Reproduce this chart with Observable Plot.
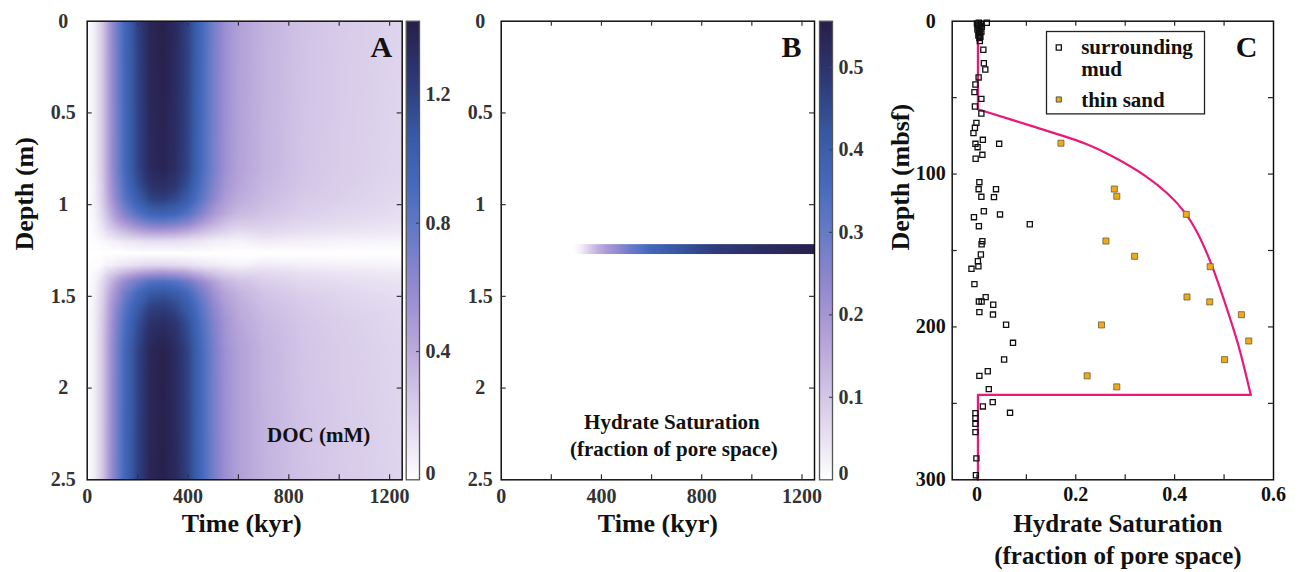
<!DOCTYPE html>
<html>
<head>
<meta charset="utf-8">
<script src="https://cdn.jsdelivr.net/npm/d3@7"></script>
<script src="https://cdn.jsdelivr.net/npm/@observablehq/plot@0.6"></script>
<style>
  body { margin: 0; background: #fff; }
  #wrap { position: relative; width: 1299px; height: 572px; overflow: hidden; background: #fff; }
  #wrap svg { position: absolute; left: 0; top: 0; }
  #wrap svg text { font-family: 'Liberation Serif', 'Times New Roman', serif; font-weight: bold; }
</style>
</head>
<body>
<div id="wrap"></div>
<script>
// ---------------- DATA ----------------
// Panel A: DOC (mM), rows = depth (m), columns = time (kyr)
const docTimes  = [0, 30, 60, 100, 150, 200, 250, 300, 350, 400, 450, 500, 550, 600, 700, 850, 1000, 1250];
const docDepths = [0, 0.8, 0.9, 0.97, 1.05, 1.1, 1.15, 1.2, 1.265, 1.33, 1.37, 1.42, 1.48, 1.55, 1.65, 1.8, 2.5];
const docValues = [
  [0, 0.08, 0.25, 0.60, 0.95, 1.20, 1.38, 1.42, 1.35, 1.20, 0.95, 0.72, 0.55, 0.45, 0.36, 0.28, 0.24, 0.19],
  [0, 0.08, 0.25, 0.59, 0.93, 1.18, 1.35, 1.39, 1.32, 1.18, 0.93, 0.71, 0.54, 0.44, 0.35, 0.27, 0.23, 0.18],
  [0, 0.07, 0.23, 0.56, 0.88, 1.12, 1.28, 1.32, 1.26, 1.12, 0.88, 0.67, 0.51, 0.42, 0.33, 0.26, 0.22, 0.17],
  [0, 0.07, 0.22, 0.52, 0.82, 1.03, 1.19, 1.22, 1.16, 1.03, 0.82, 0.62, 0.47, 0.39, 0.31, 0.24, 0.21, 0.16],
  [0, 0.06, 0.18, 0.42, 0.67, 0.84, 0.97, 0.99, 0.95, 0.84, 0.67, 0.50, 0.39, 0.32, 0.27, 0.21, 0.18, 0.14],
  [0, 0.04, 0.13, 0.32, 0.50, 0.64, 0.73, 0.75, 0.72, 0.64, 0.50, 0.38, 0.29, 0.24, 0.22, 0.17, 0.15, 0.12],
  [0, 0.03, 0.08, 0.19, 0.30, 0.38, 0.44, 0.45, 0.43, 0.38, 0.30, 0.23, 0.18, 0.14, 0.16, 0.13, 0.11, 0.09],
  [0, 0.01, 0.03, 0.06, 0.10, 0.12, 0.14, 0.14, 0.14, 0.12, 0.10, 0.07, 0.06, 0.05, 0.08, 0.06, 0.05, 0.04],
  [0, 0, 0, 0, 0, 0, 0, 0, 0, 0, 0, 0, 0, 0, 0, 0, 0, 0],
  [0, 0.01, 0.03, 0.07, 0.11, 0.14, 0.17, 0.17, 0.16, 0.14, 0.11, 0.09, 0.07, 0.05, 0.09, 0.07, 0.06, 0.05],
  [0, 0.03, 0.09, 0.21, 0.33, 0.42, 0.48, 0.50, 0.47, 0.42, 0.33, 0.25, 0.19, 0.16, 0.16, 0.13, 0.11, 0.09],
  [0, 0.05, 0.16, 0.37, 0.59, 0.74, 0.86, 0.88, 0.84, 0.74, 0.59, 0.45, 0.34, 0.28, 0.22, 0.17, 0.15, 0.12],
  [0, 0.06, 0.19, 0.46, 0.73, 0.92, 1.06, 1.09, 1.04, 0.92, 0.73, 0.55, 0.42, 0.35, 0.27, 0.21, 0.18, 0.14],
  [0, 0.07, 0.22, 0.52, 0.82, 1.03, 1.19, 1.22, 1.16, 1.03, 0.82, 0.62, 0.47, 0.39, 0.30, 0.24, 0.20, 0.16],
  [0, 0.08, 0.24, 0.56, 0.89, 1.13, 1.30, 1.33, 1.27, 1.13, 0.89, 0.68, 0.52, 0.42, 0.33, 0.26, 0.22, 0.17],
  [0, 0.08, 0.25, 0.59, 0.94, 1.19, 1.37, 1.41, 1.34, 1.19, 0.94, 0.71, 0.54, 0.45, 0.35, 0.27, 0.23, 0.18],
  [0, 0.08, 0.25, 0.60, 0.95, 1.20, 1.38, 1.42, 1.35, 1.20, 0.95, 0.72, 0.55, 0.45, 0.36, 0.28, 0.24, 0.19]
];
const docMax = 1.43;

// Panel B: hydrate saturation in the sand layer vs time
const satTimes  = [290, 320, 350, 390, 420, 456, 490, 523, 560, 590, 656, 750, 850, 950, 1050, 1150, 1250];
const satValues = [0, 0.03, 0.08, 0.15, 0.19, 0.22, 0.26, 0.30, 0.33, 0.36, 0.40, 0.44, 0.48, 0.50, 0.52, 0.535, 0.55];
const sandLayerDepth = [1.218, 1.272];
const satMax = 0.556;

// Panel C: measured saturations
const mudSat = [0.004, 0.0, 0.008, 0.002, 0.006, 0.01, 0.003, 0.007, 0.001, 0.005, 0.009, 0.004, 0.006, 0.003, 0.007, 0.005, 0.02,
  0.006, 0.013, 0.014, 0.017, 0.0035, -0.003, -0.005, 0.009, -0.004, 0.009, -0.001, -0.004, -0.007, 0.012, 0.045, -0.003, 0.0014, 0.011, -0.0026,
  0.005, 0.0035, 0.0386, 0.009, 0.0345, 0.014, 0.0467, -0.006, 0.107, 0.004, 0.011, 0.0095, 0.008, 0.002, 0.003, -0.011, -0.005,
  0.0177, 0.004, 0.0095, 0.033, 0.005, 0.0325, 0.059, 0.073, 0.055, 0.022, 0.005, 0.024, 0.032, 0.012, 0.067, -0.003, -0.003, -0.003, -0.003, -0.001, -0.002];
const mudDepth = [1, 1.5, 1.8, 2.5, 3, 3.5, 4.2, 5, 5.5, 6.3, 7, 7.8, 8.6, 9.4, 10.2, 11, 1.0,
  13, 18.7, 27.5, 31.6, 36.8, 41.4, 46.4, 50.8, 55.8, 60.4, 66.5, 69.7, 73.2, 77.6, 80.2, 80.2, 82.4, 87.4, 90,
  105.3, 109.9, 109.9, 114.9, 115.1, 124.3, 126.4, 128.2, 132.8, 134.1, 143.9, 145.9, 152.6, 157, 160.3, 162, 172,
  180.5, 183.4, 183.4, 185.5, 190.3, 191.9, 198.6, 210.4, 221.3, 229, 232, 240.7, 249.2, 252, 256.2, 256.4, 259.7, 263.4, 268.8, 286, 297];
const sandSat   = [0.17, 0.278, 0.283, 0.4235, 0.261, 0.319, 0.472, 0.425, 0.471, 0.535, 0.252, 0.55, 0.501, 0.223, 0.283];
const sandDepth = [79.8, 109.8, 114.5, 126.3, 143.8, 153.8, 160.6, 180.4, 183.6, 192, 198.7, 209.2, 221.4, 232, 239.2];

// Model profile (line) in panel C
const profileTopSat = [0.002, 0.002];
const profileTopDepth = [0, 57.6];
const profileCurveSat = [0.002, 0.11, 0.22, 0.271, 0.339, 0.386, 0.42, 0.447, 0.474, 0.5, 0.528, 0.554];
const profileCurveDepth = [57.6, 68.5, 80.2, 87.9, 100.9, 112.9, 124.9, 139, 158.7, 182.5, 210.9, 244.4];
const profileBottomSat = [0.554, 0.002, 0.002];
const profileBottomDepth = [244.4, 244.4, 300];

// Tick values / labels
const timeTicks = [200, 400, 600, 800, 1000, 1200];
const timeLabels = [0, 400, 800, 1200];
const depthTicksM = [0.5, 1, 1.5, 2];
const depthLabelsM = [0, 0.5, 1, 1.5, 2, 2.5];
const docTicks = [0, 0.4, 0.8, 1.2];
const satTicks = [0, 0.1, 0.2, 0.3, 0.4, 0.5];
const cSatTicks = [0, 0.1, 0.2, 0.3, 0.4, 0.5];
const cSatLabels = [0, 0.2, 0.4, 0.6];
const cDepthTicks = [50, 100, 150, 200, 250];
const cDepthLabels = [0, 100, 200, 300];

// Colour map (shared by A and B)
const cmapStops  = [0, 0.1, 0.2, 0.3, 0.42, 0.55, 0.65, 0.75, 0.87, 1];
const cmapColors = ["#ffffff", "#e6def1", "#cfc1e5", "#b6a4d9", "#9389d0", "#6279c6", "#4468bd", "#385aa5", "#2d3a78", "#281f4a"];

// ---------------- LAYOUT ----------------
const W = 1299, H = 572;
const TOP = 20.7, BOTTOM = 479.3, FH = BOTTOM - TOP;
const FONT = "'Liberation Serif', 'Times New Roman', serif";
const wrap = document.getElementById("wrap");

function base(left, right, extra) {
  return Object.assign({
    width: W, height: H,
    marginLeft: left, marginRight: W - right, marginTop: TOP, marginBottom: H - BOTTOM,
    style: {background: "transparent", fontFamily: FONT, fontWeight: "bold", fontSize: "20px", color: "#333", overflow: "visible"}
  }, extra);
}
function inTicksY(values, fw, len = 5, stroke = "#333") {
  return [
    Plot.tickY(values, {y: d => d, insetRight: fw - len, stroke, strokeWidth: 1.2}),
    Plot.tickY(values, {y: d => d, insetLeft: fw - len, stroke, strokeWidth: 1.2})
  ];
}
function inTicksX(values, len = 5, stroke = "#333") {
  return [
    Plot.tickX(values, {x: d => d, insetBottom: FH - len, stroke, strokeWidth: 1.2}),
    Plot.tickX(values, {x: d => d, insetTop: FH - len, stroke, strokeWidth: 1.2})
  ];
}
function xLabels(values, dy, fill = "#333") {
  return Plot.text(values, {x: d => d, text: d => String(d), frameAnchor: "bottom", dy, lineAnchor: "middle", fontSize: 20, fontWeight: "bold", fontFamily: FONT, fill});
}
function yLabels(values, dx, fill = "#333") {
  return Plot.text(values, {y: d => d, text: d => String(d), frameAnchor: "left", dx, textAnchor: "middle", lineAnchor: "middle", fontSize: 20, fontWeight: "bold", fontFamily: FONT, fill});
}
function title(str, opts) {
  return Plot.text([str], Object.assign({text: d => d, fontWeight: "bold", fontFamily: FONT, fill: "#111", lineAnchor: "middle"}, opts));
}
function cbLabels(values, dy) {
  return Plot.text(values, {y: d => d, text: d => String(d), frameAnchor: "right", dx: 6, dy, textAnchor: "start", lineAnchor: "middle", fontSize: 20, fontWeight: "bold", fontFamily: FONT, fill: "#333"});
}

// ---------- Panel A ----------
const AL = 86.7, AR = 401.7;
const docTable = docDepths.flatMap((z, i) => docTimes.map((t, j) => ({t, z, v: docValues[i][j]})));
const colorA = {type: "linear", domain: cmapStops.map(s => s * docMax), range: cmapColors, clamp: true};

const plotA = Plot.plot(base(AL, AR, {
  x: {domain: [0, 1250], axis: null},
  y: {domain: [0, 2.5], reverse: true, axis: null},
  color: colorA,
  marks: [
    Plot.raster(docTable, {x: "t", y: "z", fill: "v", interpolate: "barycentric", x1: 0, x2: 1250, y1: 0, y2: 2.5}),
    Plot.frame({stroke: "#111", strokeWidth: 1.5}),
    ...inTicksX(timeTicks),
    ...inTicksY(depthTicksM, AR - AL),
    xLabels(timeLabels, 16.7),
    yLabels(depthLabelsM, -24),
    title("Time (kyr)", {frameAnchor: "bottom", dy: 44, dx: -3, fontSize: 26}),
    title("Depth (m)", {frameAnchor: "left", dx: -63, rotate: -90, fontSize: 26}),
    title("A", {frameAnchor: "top-right", dx: -10, dy: 26, fontSize: 30, textAnchor: "end"}),
    title("DOC (mM)", {frameAnchor: "bottom-right", dx: -32, dy: -45, fontSize: 21, textAnchor: "end"})
  ]
}));
wrap.appendChild(plotA);

// ---------- Colorbar A ----------
const CAL = 405.7, CAR = 419;
const cbA = Plot.plot(base(CAL, CAR, {
  x: {domain: [0, 1], axis: null},
  y: {domain: [0, docMax], axis: null},
  color: colorA,
  marks: [
    Plot.raster({fill: (x, y) => y, x1: 0, x2: 1, y1: 0, y2: docMax}),
    Plot.frame({stroke: "#555", strokeWidth: 1.3}),
    Plot.tickY(docTicks.slice(1), {y: d => d, insetLeft: (CAR - CAL) - 3, stroke: "#444", strokeWidth: 1.2}),
    cbLabels(docTicks.slice(1), 0),
    cbLabels([0], -6)
  ]
}));
wrap.appendChild(cbA);

// ---------- Panel B ----------
const BL = 500.7, BR = 814;
const plotB = Plot.plot(base(BL, BR, {
  x: {domain: [0, 1250], axis: null},
  y: {domain: [0, 2.5], reverse: true, axis: null},
  marks: [
    Plot.rect([0], {x1: satTimes[0], x2: satTimes[satTimes.length - 1], y1: sandLayerDepth[0], y2: sandLayerDepth[1], fill: "url(#hydGrad)"}),
    Plot.frame({stroke: "#111", strokeWidth: 1.5}),
    ...inTicksX(timeTicks),
    ...inTicksY(depthTicksM, BR - BL),
    xLabels(timeLabels, 16.7),
    yLabels(depthLabelsM, -21),
    title("Time (kyr)", {frameAnchor: "bottom", dy: 44, fontSize: 26}),
    title("B", {frameAnchor: "top-right", dx: -13, dy: 26, fontSize: 30, textAnchor: "end"}),
    title("Hydrate Saturation", {frameAnchor: "bottom", dx: 14, dy: -58, fontSize: 21}),
    title("(fraction of pore space)", {frameAnchor: "bottom", dx: 16, dy: -31, fontSize: 21})
  ]
}));
wrap.appendChild(plotB);

// ---------- Colorbar B ----------
const CBL = 819, CBR = 832;
const colorB = {type: "linear", domain: cmapStops.map(s => s * satMax), range: cmapColors, clamp: true};
const cbB = Plot.plot(base(CBL, CBR, {
  x: {domain: [0, 1], axis: null},
  y: {domain: [0, satMax], axis: null},
  color: colorB,
  marks: [
    Plot.raster({fill: (x, y) => y, x1: 0, x2: 1, y1: 0, y2: satMax}),
    Plot.frame({stroke: "#555", strokeWidth: 1.3}),
    Plot.tickY(satTicks.slice(1), {y: d => d, insetLeft: (CBR - CBL) - 3, stroke: "#444", strokeWidth: 1.2}),
    cbLabels(satTicks.slice(1), 0),
    cbLabels([0], -6)
  ]
}));
wrap.appendChild(cbB);

// gradient for the hydrate band, coloured through the colour scale
(function () {
  const sc = cbB.scale && cbB.scale("color");
  const colorFn = (sc && sc.apply) ? (v => sc.apply(v)) : d3.scaleLinear().domain(colorB.domain).range(cmapColors).clamp(true);
  const t0 = satTimes[0], tN = satTimes[satTimes.length - 1];
  const defs = d3.select(plotB).insert("defs", ":first-child");
  const lg = defs.append("linearGradient").attr("id", "hydGrad").attr("x1", 0).attr("x2", 1).attr("y1", 0).attr("y2", 0);
  satTimes.forEach((t, i) => lg.append("stop").attr("offset", (t - t0) / (tN - t0)).attr("stop-color", colorFn(satValues[i])));
})();

// ---------- Panel C ----------
const CL = 951.7, CR = 1273;
const mud = mudSat.map((s, i) => ({s, d: mudDepth[i]}));
const sand = sandSat.map((s, i) => ({s, d: sandDepth[i]}));
const pTop = profileTopSat.map((s, i) => ({s, d: profileTopDepth[i]}));
const pCurve = profileCurveSat.map((s, i) => ({s, d: profileCurveDepth[i]}));
const pBottom = profileBottomSat.map((s, i) => ({s, d: profileBottomDepth[i]}));
const LINE = "#e8197b";

const plotC = Plot.plot(base(CL, CR, {
  x: {domain: [-0.05, 0.6], axis: null},
  y: {domain: [0, 300], reverse: true, axis: null},
  marks: [
    Plot.frame({insetLeft: 1046 - CL, insetRight: CR - 1204, insetTop: 31 - TOP, insetBottom: BOTTOM - 113.4, stroke: "#222", strokeWidth: 1.3, fill: "white"}),
    Plot.line(pTop, {x: "s", y: "d", stroke: LINE, strokeWidth: 2.2}),
    Plot.line(pCurve, {x: "s", y: "d", stroke: LINE, strokeWidth: 2.2, curve: "catmull-rom"}),
    Plot.line(pBottom, {x: "s", y: "d", stroke: LINE, strokeWidth: 2.2}),
    Plot.dot(mud, {x: "s", y: "d", symbol: "square", r: 2.9, stroke: "#111", strokeWidth: 1.3, fill: "none"}),
    Plot.dot(sand, {x: "s", y: "d", symbol: "square", r: 3.4, fill: "#eeab17", stroke: "#6a5a3a", strokeWidth: 0.8}),
    Plot.frame({stroke: "#111", strokeWidth: 1.5}),
    ...inTicksX(cSatTicks, 5, "#222"),
    ...inTicksY(cDepthTicks, CR - CL, 5, "#222"),
    xLabels(cSatLabels, 15, "#111"),
    yLabels(cDepthLabels, -21.5, "#111"),
    // legend
    Plot.dot([0], {frameAnchor: "top-left", dx: 1058.3 - CL, dy: 47 - TOP, symbol: "square", r: 2.9, stroke: "#111", strokeWidth: 1.3, fill: "none"}),
    Plot.dot([0], {frameAnchor: "top-left", dx: 1058.3 - CL, dy: 99 - TOP, symbol: "square", r: 2.9, fill: "#eeab17", stroke: "#333", strokeWidth: 0.8}),
    title("surrounding", {frameAnchor: "top-left", dx: 1080.7 - CL, dy: 47 - TOP, textAnchor: "start", fontSize: 21}),
    title("mud", {frameAnchor: "top-left", dx: 1080.7 - CL, dy: 69 - TOP, textAnchor: "start", fontSize: 21}),
    title("thin sand", {frameAnchor: "top-left", dx: 1080.7 - CL, dy: 99.5 - TOP, textAnchor: "start", fontSize: 21}),
    title("C", {frameAnchor: "top-right", dx: -16, dy: 26, fontSize: 30, textAnchor: "end"}),
    title("Depth (mbsf)", {frameAnchor: "left", dx: -51.7, rotate: -90, fontSize: 26}),
    title("Hydrate Saturation", {frameAnchor: "bottom", dx: 5, dy: 44, fontSize: 25}),
    title("(fraction of pore space)", {frameAnchor: "bottom", dx: 5, dy: 76, fontSize: 25})
  ]
}));
wrap.appendChild(plotC);
</script>
</body>
</html>
